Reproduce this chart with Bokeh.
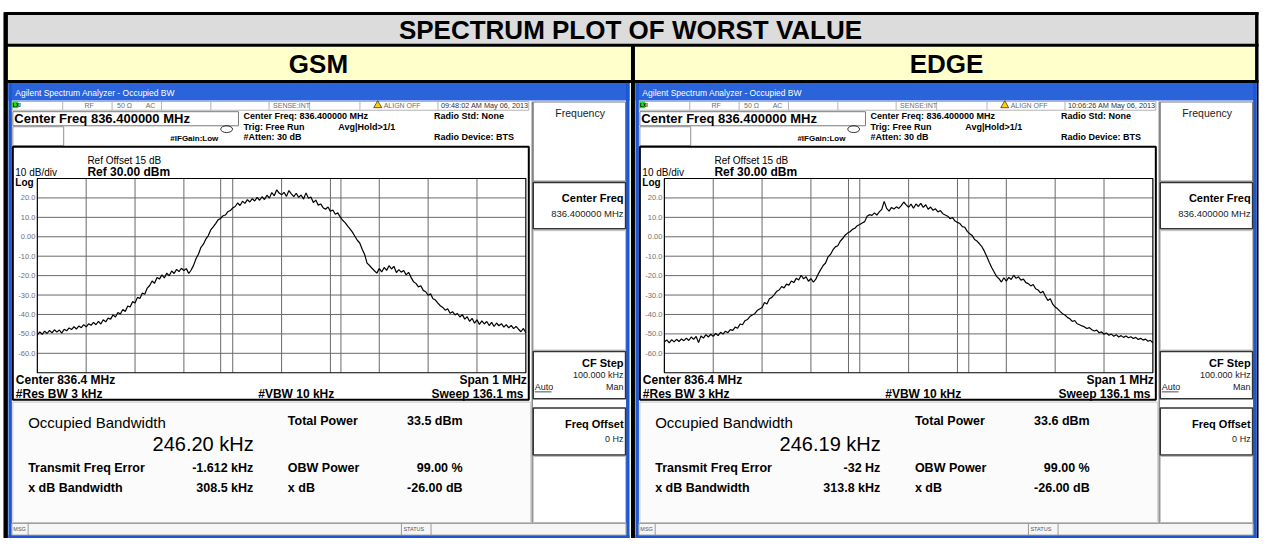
import numpy as np
from bokeh.plotting import figure
from bokeh.models import Range1d
from bokeh.core.properties import value
from bokeh.embed import file_html
from bokeh.resources import INLINE

# ---------------- data ----------------
title_text = "SPECTRUM PLOT OF WORST VALUE"
panel_names = ["GSM", "EDGE"]
timestamps = ["09:48:02 AM May 06, 2013", "10:06:26 AM May 06, 2013"]
center_freq_mhz = 836.4
span_khz = 1000.0
ref_level_dbm = 30.0
db_per_div = 10.0
obw_values = ["246.20 kHz", "246.19 kHz"]
total_power = ["33.5 dBm", "33.6 dBm"]
freq_error = ["-1.612 kHz", "-32 Hz"]
xdb_bandwidth = ["308.5 kHz", "313.8 kHz"]
obw_power = ["99.00 %", "99.00 %"]
xdb_value = ["-26.00 dB", "-26.00 dB"]
obw_edges_khz = [[-124.7, 121.5], [-123.1, 123.1]]
y_ticks = [20, 10, 0, -10, -20, -30, -40, -50, -60]
y_tick_labels = ["20.0", "10.0", "0.00", "-10.0", "-20.0", "-30.0", "-40.0", "-50.0", "-60.0"]

gsm_trace = [
    -50.5, -49.0, -50.2, -48.6, -49.8, -48.2, -49.5, -47.9, -49.1, -48.0,
    -49.6, -47.6, -48.4, -46.9, -47.8, -46.3, -47.5, -45.9, -46.8, -45.2,
    -46.4, -44.8, -45.6, -44.1, -45.3, -43.6, -44.9, -42.7, -43.8, -41.9,
    -42.4, -40.2, -41.3, -39.0, -39.8, -37.4, -38.5, -35.6, -36.2, -33.4,
    -34.1, -31.2, -31.8, -28.9, -29.6, -26.4, -25.1, -22.8, -23.9, -21.0,
    -21.8, -19.6, -21.2, -18.7, -20.1, -17.6, -18.9, -16.8, -17.9, -16.2,
    -17.4, -16.4, -18.9, -17.1, -14.6, -11.2, -8.9, -5.4, -3.8, -1.2,
    0.6, 3.5, 5.1, 6.8, 8.7, 9.4, 10.8, 11.2, 12.9, 13.5,
    14.8, 15.6, 17.4, 16.1, 18.3, 17.2, 19.1, 17.9, 19.6, 18.4,
    20.3, 18.8, 20.6, 19.2, 21.4, 19.9, 22.8, 21.1, 24.2, 22.5,
    21.6, 22.9, 20.8, 23.8, 22.1, 20.7, 22.4, 20.3, 21.5, 19.4,
    22.6, 19.8, 20.5, 17.6, 18.9, 16.3, 16.9, 15.0, 14.2, 15.3,
    13.1, 13.8, 11.6, 12.3, 10.2, 8.5, 7.3, 5.6, 4.1, 2.4,
    0.3, -1.8, -3.2, -6.4, -9.1, -13.6, -14.8, -16.2, -17.5, -18.7,
    -16.4, -18.1, -15.8, -17.3, -14.9, -16.6, -15.2, -18.4, -16.9, -18.2,
    -17.4, -19.6, -18.3, -20.9, -23.1, -24.0, -25.8, -25.2, -27.6, -28.3,
    -30.1, -29.4, -31.9, -32.6, -34.2, -35.5, -36.4, -37.8, -37.1, -39.4,
    -38.6, -40.2, -39.5, -41.3, -40.1, -42.4, -41.2, -43.6, -42.0, -44.5,
    -42.8, -45.1, -43.3, -44.9, -43.6, -45.7, -44.1, -46.2, -44.4, -45.8,
    -44.7, -46.5, -45.2, -46.9, -45.6, -47.3, -46.1, -47.6, -48.9, -47.2,
    -49.4,
]

edge_trace = [
    -54.2, -53.1, -54.6, -53.0, -54.1, -52.8, -53.9, -52.6, -53.5, -52.2,
    -53.4, -51.6, -52.8, -51.3, -54.5, -51.1, -52.2, -50.4, -51.6, -50.2,
    -51.3, -49.8, -50.9, -49.2, -50.1, -48.6, -49.4, -47.8, -48.2, -46.5,
    -47.1, -44.9, -45.3, -43.2, -42.6, -41.1, -40.3, -39.6, -38.0, -37.2,
    -36.4, -33.8, -34.6, -31.9, -31.2, -29.8, -28.1, -27.4, -25.6, -26.3,
    -24.4, -24.9, -22.8, -23.6, -21.4, -22.3, -19.8, -21.7, -20.6, -22.9,
    -21.5, -23.4, -21.8, -19.2, -16.9, -14.8, -13.5, -10.4, -9.1, -6.8,
    -5.2, -4.6, -2.3, -0.9, 0.8, 1.9, 2.6, 3.8, 4.4, 5.7,
    6.3, 7.1, 7.8, 10.6, 11.4, 11.0, 12.3, 11.2, 12.8, 14.1,
    18.2, 14.6, 13.2, 15.1, 14.3, 15.4, 14.6, 16.0, 17.9, 16.4,
    15.2, 16.8, 14.7, 16.9, 15.6, 17.2, 15.1, 16.5, 14.2, 15.3,
    13.6, 14.4, 12.8, 13.5, 11.9, 11.2, 10.6, 9.3, 9.9, 8.1,
    7.4, 6.8, 5.2, 4.9, 2.8, 1.6, 0.7, -1.4, -2.2, -3.6,
    -5.1, -7.4, -10.2, -13.1, -15.8, -18.1, -20.4, -21.6, -23.3, -21.1,
    -22.8, -20.9, -22.0, -19.8, -21.4, -20.6, -22.3, -21.8, -23.6, -24.1,
    -25.3, -24.6, -26.8, -27.4, -28.9, -28.1, -30.6, -32.8, -31.9, -34.7,
    -36.2, -37.1, -38.4, -39.6, -40.3, -41.5, -42.2, -43.6, -43.1, -44.8,
    -45.3, -45.9, -46.4, -47.2, -46.8, -47.9, -48.5, -48.1, -49.4, -49.0,
    -50.2, -49.5, -50.7, -50.1, -51.2, -50.4, -51.6, -50.9, -51.8, -51.1,
    -52.0, -51.5, -52.4, -51.8, -52.9, -52.3, -53.2, -52.7, -53.8, -53.3,
    -54.6,
]
traces = [gsm_trace, edge_trace]

# ---------------- figure (coordinates = reference page pixels) ----------------
FONT = "Liberation Sans"
p = figure(width=1260, height=538, x_range=Range1d(0, 1276), y_range=Range1d(554, 0),
           output_backend="svg", toolbar_location=None, min_border=0,
           x_axis_location=None, y_axis_location=None,
           background_fill_color="white", border_fill_color="white",
           outline_line_color=None)
p.grid.visible = False


def box(l, r, t, b, fill=None, line=None, lw=1.0):
    p.quad(left=[l], right=[r], top=[t], bottom=[b],
           fill_color=fill, fill_alpha=1.0 if fill else 0.0,
           line_color=line, line_width=lw)


def hline(x0, x1, y, color="#000", lw=1.0):
    p.segment(x0=[x0], y0=[y], x1=[x1], y1=[y], line_color=color, line_width=lw)


def vline(x, y0, y1, color="#000", lw=1.0):
    p.segment(x0=[x], y0=[y0], x1=[x], y1=[y1], line_color=color, line_width=lw)


def txt(x, y, s, size, bold=False, align="left", color="#000000", font=FONT):
    p.text(x=[x], y=[y], text=[s], text_font=value(font),
           text_font_size=f"{size}px", text_font_style="bold" if bold else "normal",
           text_align=align, text_baseline="middle", text_color=color)


# ---------------- table header ----------------
box(5, 1272, 13, 46, fill="#dcdcdc")
box(5, 1272, 46, 83, fill="#ffffcc")
txt(638, 30, title_text, 26, bold=True, align="center")
txt(322, 65, panel_names[0], 26, bold=True, align="center")
txt(958, 65, panel_names[1], 26, bold=True, align="center")
hline(4, 1274, 13.5, lw=3)
hline(4, 1274, 46, lw=3)
hline(4, 1274, 83.5, lw=3)
box(3, 7.5, 12, 554, fill="#000000")
box(1270.5, 1274, 12, 554, fill="#000000")
vline(640.5, 46, 554, lw=4)


# ---------------- analyzer screenshot ----------------
def panel(k, off):
    X = lambda x: x + off
    blue = "#1d57d3"
    box(X(8), X(637), 85, 554, fill="#ffffff")
    box(X(8), X(637), 85, 103, fill="#2a63da")
    box(X(8), X(11.5), 85, 554, fill=blue)
    box(X(633.5), X(637), 85, 554, fill=blue)
    box(X(8), X(637), 550.5, 554, fill=blue)
    txt(X(15), 95, "Agilent Spectrum Analyzer - Occupied BW", 8.5, color="#ffffff")

    # status row
    box(X(12), X(535), 104, 113, fill="#ffffff", line="#b4b4b4")
    for sx in [63, 113, 163, 213, 272, 313, 364, 443]:
        vline(X(sx), 104, 113, color="#b4b4b4")
    box(X(12), X(18), 104, 111, fill="#22dd22")
    txt(X(12.5), 108, "LXI", 5, bold=True)
    gray = "#6e6e6e"
    txt(X(85), 108.5, "RF", 7, color=gray)
    txt(X(118), 108.5, "50 \u03a9", 7, color=gray)
    txt(X(147), 108.5, "AC", 7, color=gray)
    txt(X(276), 108.5, "SENSE:INT", 7, color=gray)
    p.scatter(x=[X(382)], y=[108], marker="triangle", size=8,
              fill_color="#ffd200", line_color="#000000", line_width=0.6)
    txt(X(388), 108.5, "ALIGN OFF", 7, color=gray)
    txt(X(446), 108.5, timestamps[k], 7.3, color="#333333")

    # header area
    box(X(12.5), X(241), 114.5, 129, line="#7a7a7a")
    txt(X(14), 122, "Center Freq 836.400000 MHz", 13, bold=True)
    box(X(12.5), X(64), 130, 149.5, line="#909090")
    p.ellipse(x=[X(229)], y=[132.5], width=[12], height=[7],
              fill_alpha=0, line_color="#000000", line_width=0.8)
    txt(X(172), 142, "#IFGain:Low", 8, bold=True)
    txt(X(246), 119, "Center Freq: 836.400000 MHz", 9, bold=True)
    txt(X(246), 130, "Trig: Free Run", 9, bold=True)
    txt(X(246), 141, "#Atten: 30 dB", 9, bold=True)
    txt(X(342), 130, "Avg|Hold>1/1", 9, bold=True)
    txt(X(439), 119, "Radio Std: None", 9, bold=True)
    txt(X(439), 141, "Radio Device: BTS", 9, bold=True)

    # graph box
    box(X(12.5), X(535), 150.5, 411, fill="#ffffff", line="#000000", lw=2)
    txt(X(88), 165, "Ref Offset 15 dB", 10)
    txt(X(88), 176.5, "Ref 30.00 dBm", 12, bold=True)
    txt(X(15), 177, "10 dB/div", 10)
    txt(X(15), 187, "Log", 10, bold=True)
    txt(X(15.5), 391, "Center  836.4 MHz", 12, bold=True)
    txt(X(533), 391, "Span 1 MHz", 12, bold=True, align="right")
    txt(X(15.5), 405, "#Res BW  3 kHz", 12, bold=True)
    txt(X(261), 405, "#VBW  10 kHz", 12, bold=True)
    txt(X(533), 405, "Sweep  136.1 ms", 12, bold=True, align="right")

    # spectrum in its own coordinates (kHz offset, dBm)
    half = span_khz / 2
    bottom = ref_level_dbm - 10 * db_per_div
    sub = p.subplot(x_source=Range1d(-half, half),
                    y_source=Range1d(bottom, ref_level_dbm),
                    x_target=Range1d(X(37.3), X(532)),
                    y_target=Range1d(383.3, 183.3))
    gx = [(-half + i * span_khz / 10) for i in range(1, 10)] + list(obw_edges_khz[k])
    sub.segment(x0=gx, y0=[bottom] * len(gx), x1=gx, y1=[ref_level_dbm] * len(gx),
                line_color="#6a6a6a", line_width=1)
    gy = [bottom + i * db_per_div for i in range(1, 10)]
    sub.segment(x0=[-half] * len(gy), y0=gy, x1=[half] * len(gy), y1=gy,
                line_color="#6a6a6a", line_width=1)
    sub.quad(left=[-half], right=[half], top=[ref_level_dbm], bottom=[bottom],
             fill_alpha=0, line_color="#000000", line_width=1.2)
    tr = traces[k]
    fx = np.linspace(-half, half, len(tr))
    sub.line(x=fx, y=tr, line_color="#000000", line_width=1.2)
    sub.text(x=[-half] * len(y_ticks), y=y_ticks, text=y_tick_labels, x_offset=-2,
             text_font=value(FONT), text_font_size="7.5px", text_align="right",
             text_baseline="middle", text_color="#707070")

    # results area
    box(X(12.5), X(537), 413.5, 537.5, fill="#fbfbfb", line="#c4c4c4")
    txt(X(28), 435, "Occupied Bandwidth", 15)
    txt(X(154), 456.5, obw_values[k], 20)
    txt(X(291), 432.5, "Total Power", 12.5, bold=True)
    txt(X(468), 432.5, total_power[k], 12.5, bold=True, align="right")
    txt(X(28), 481.5, "Transmit Freq Error", 12.5, bold=True)
    txt(X(256), 481.5, freq_error[k], 12.5, bold=True, align="right")
    txt(X(291), 481.5, "OBW Power", 12.5, bold=True)
    txt(X(468), 481.5, obw_power[k], 12.5, bold=True, align="right")
    txt(X(28), 502.5, "x dB Bandwidth", 12.5, bold=True)
    txt(X(256), 502.5, xdb_bandwidth[k], 12.5, bold=True, align="right")
    txt(X(291), 502.5, "x dB", 12.5, bold=True)
    txt(X(468), 502.5, xdb_value[k], 12.5, bold=True, align="right")

    # soft-key sidebar
    vline(X(538.5), 104, 538, color="#8a8a8a", lw=1.5)
    box(X(539.5), X(633), 104.5, 186, fill="#ffffff", line="#777777")
    txt(X(587), 116, "Frequency", 10.5, align="center", color="#222222")
    box(X(539.5), X(633), 187.5, 235, fill="#ffffff", line="#333333", lw=1.5)
    txt(X(631), 203, "Center Freq", 11, bold=True, align="right")
    txt(X(631), 219.5, "836.400000 MHz", 9.5, align="right", color="#222222")
    box(X(539.5), X(633), 237, 360, fill="#ffffff", line="#bbbbbb")
    box(X(539.5), X(633), 361.5, 410, fill="#ffffff", line="#333333", lw=1.5)
    txt(X(631), 373.5, "CF Step", 11, bold=True, align="right")
    txt(X(631), 386, "100.000 kHz", 9, align="right", color="#222222")
    txt(X(541), 398, "Auto", 9, color="#222222")
    hline(X(541), X(558), 403, color="#222222", lw=0.8)
    txt(X(631), 398, "Man", 9, align="right", color="#222222")
    box(X(539.5), X(633), 419.5, 468, fill="#ffffff", line="#333333", lw=1.5)
    txt(X(631), 436, "Freq Offset", 11, bold=True, align="right")
    txt(X(631), 452, "0 Hz", 9, align="right", color="#222222")
    box(X(539.5), X(633), 469.5, 537.5, fill="#ffffff", line="#bbbbbb")

    # message bar
    box(X(11.5), X(633.5), 538.5, 550.5, fill="#f6f6f6", line="#9a9a9a")
    vline(X(28), 538.5, 550.5, color="#9a9a9a")
    vline(X(406), 538.5, 550.5, color="#9a9a9a")
    vline(X(436), 538.5, 550.5, color="#9a9a9a")
    txt(X(13), 544.5, "MSG", 5.5, color="#555555")
    txt(X(408), 544.5, "STATUS", 5.5, color="#555555")


panel(0, 0)
panel(1, 635)

open("out.html", "w").write(file_html(p, INLINE))
